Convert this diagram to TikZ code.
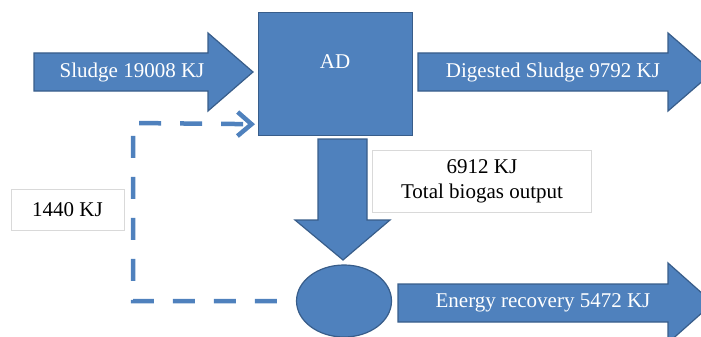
\documentclass[tikz,border=0pt]{standalone}
\usepackage{fontspec}
\setmainfont{Liberation Serif}
\usetikzlibrary{shapes.geometric,arrows.meta}
\definecolor{adblue}{HTML}{4F81BD}
\definecolor{adedge}{HTML}{385D8A}
\definecolor{boxgray}{HTML}{D9D9D9}
\begin{document}
\begin{tikzpicture}
    [x=1pt, y=-1pt, font=\fontsize{21}{25}\selectfont,
     filled/.style={fill=adblue, draw=adedge, line width=1.2pt},
     onblue/.style={text=white, inner sep=0pt},
     infobox/.style={draw=boxgray, fill=white, line width=0.8pt, align=center},
     dashflow/.style={draw=adblue, line width=4.5pt, dash pattern=on 22pt off 19pt, dash phase=22pt,
                      -{Straight Barb[length=14pt,width=24pt]}}]
    \useasboundingbox (0,0) rectangle (701,337);
    \clip (0,0) rectangle (701,337);
    % block arrows
    \filldraw[filled] (34,53) -- (208,53) -- (208,33) -- (253,72) -- (208,111) -- (208,91) -- (34,91) -- cycle;
    \filldraw[filled] (418,53) -- (668,53) -- (668,33) -- (713,72) -- (668,111) -- (668,91) -- (418,91) -- cycle;
    \filldraw[filled] (398,284) -- (668,284) -- (668,263) -- (713,303) -- (668,343) -- (668,322) -- (398,322) -- cycle;
    \filldraw[filled] (318,139) -- (367,139) -- (367,220) -- (390,220) -- (343,260) -- (295,220) -- (318,220) -- cycle;
    % digester and gas holder
    \node[filled, minimum width=154, minimum height=123, anchor=north west] (ad) at (258,12) {};
    \node[filled, ellipse, minimum width=95, minimum height=72] (gas) at (344,301) {};
    \node[onblue] (adtxt) at (335,62) {AD};
    \node[onblue] (sludge) at (132,72) {Sludge 19008 KJ};
    \node[onblue] (digested) at (553,72) {Digested Sludge 9792 KJ};
    \node[onblue] (energy) at (543,303) {Energy recovery 5472 KJ};
    % value boxes
    \node[infobox, minimum width=219, minimum height=62] (biogas) at (482,181) {6912 KJ\\Total biogas output};
    \node[infobox, minimum width=113, minimum height=41] (recycle) at (67.5,209.5) {1440 KJ};
    % heat returned to the digester
    \draw[dashflow] (gas.west) -| (133,123) -- ([yshift=12pt, xshift=-3pt]ad.south west);
\end{tikzpicture}
\end{document}
